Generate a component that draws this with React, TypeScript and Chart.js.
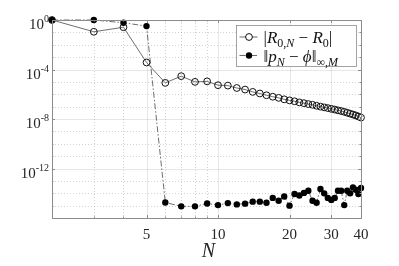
import React, { useEffect, useRef } from "react";
import { Chart, registerables } from "chart.js";

Chart.register(...registerables);

// ---- data ----
const N = [2, 3, 4, 5, 6, 7, 8, 9, 10, 11, 12, 13, 14, 15, 16, 17, 18, 19, 20, 21, 22, 23, 24, 25, 26, 27, 28, 29, 30, 31, 32, 33, 34, 35, 36, 37, 38, 39, 40];
const errR = [1, 1.12e-1, 2.6e-1, 3.7e-4, 8.3e-6, 2.9e-5, 1.0e-5, 1.1e-5, 5.4e-6, 5.0e-6, 3.2e-6, 2.4e-6, 1.55e-6, 1.15e-6, 8.3e-7, 6.3e-7, 5.1e-7, 3.9e-7, 3.2e-7, 2.7e-7, 2.2e-7, 1.9e-7, 1.6e-7, 1.4e-7, 1.17e-7, 1.0e-7, 8.7e-8, 7.6e-8, 6.6e-8, 5.8e-8, 5.0e-8, 4.4e-8, 3.8e-8, 3.2e-8, 2.7e-8, 2.3e-8, 1.95e-8, 1.6e-8, 1.3e-8];
const errP = [1, 1, 0.6, 0.32, 1.8e-15, 8.7e-16, 8.7e-16, 1.5e-15, 1.1e-15, 1.6e-15, 1.26e-15, 1.45e-15, 2.1e-15, 2.1e-15, 1.7e-15, 4.2e-15, 2.5e-15, 5.4e-15, 1.0e-15, 8.7e-15, 6.5e-15, 1.07e-14, 1.6e-14, 2.5e-15, 1.7e-15, 2.2e-14, 9.8e-15, 4.2e-15, 2.9e-15, 4.2e-15, 1.6e-14, 1.6e-14, 1.1e-15, 1.6e-14, 9.8e-15, 3.0e-14, 1.9e-14, 8.7e-15, 2.7e-14];
const xTicks = [5, 10, 20, 30, 40];
const xMinor = [2, 3, 4, 6, 7, 8, 9];
const yMajorExp = [0, -4, -8, -12, -16];
const yMinorExp = [-1, -2, -3, -5, -6, -7, -9, -10, -11, -13, -14, -15];
const yLabelExp = [0, -4, -8, -12];
const xLabel = "N";

const SERIF = '"Liberation Serif", "DejaVu Serif", serif';

type Seg = { t: string; it?: boolean; sub?: boolean; sup?: boolean };
const legendRows: { segs: Seg[]; filled: boolean; dash: number[] }[] = [
  {
    segs: [
      { t: "|" }, { t: "R", it: true }, { t: "0,", sub: true }, { t: "N", sub: true, it: true },
      { t: " − " }, { t: "R", it: true }, { t: "0", sub: true }, { t: "|" },
    ],
    filled: false,
    dash: [],
  },
  {
    segs: [
      { t: "‖" }, { t: "p", it: true }, { t: "N", sub: true, it: true }, { t: " − " },
      { t: "ϕ", it: true }, { t: "‖" }, { t: "∞,", sub: true }, { t: "M", sub: true, it: true },
    ],
    filled: true,
    dash: [6, 2, 1.5, 2],
  },
];

function drawRich(ctx: CanvasRenderingContext2D, segs: Seg[], x: number, base: number, big: number, small: number) {
  ctx.textAlign = "left";
  ctx.textBaseline = "alphabetic";
  for (const s of segs) {
    const size = s.sub || s.sup ? small : big;
    ctx.font = `${s.it ? "italic " : ""}${size}px ${SERIF}`;
    const dy = s.sub ? 4 : s.sup ? -6 : 0;
    ctx.fillText(s.t, x, base + dy);
    x += ctx.measureText(s.t).width;
  }
}

const decor = {
  id: "decor",
  beforeDatasetsDraw(chart: any) {
    const { ctx, chartArea: a, scales } = chart;
    const xs = scales.x, ys = scales.y;
    ctx.save();
    ctx.lineWidth = 0.8;
    // minor dotted grid
    ctx.strokeStyle = "rgba(0,0,0,0.22)";
    ctx.setLineDash([1, 2]);
    for (const v of xMinor) {
      const px = Math.round(xs.getPixelForValue(v)) + 0.5;
      ctx.beginPath(); ctx.moveTo(px, a.top); ctx.lineTo(px, a.bottom); ctx.stroke();
    }
    for (const e of yMinorExp) {
      const py = Math.round(ys.getPixelForValue(Math.pow(10, e))) + 0.5;
      ctx.beginPath(); ctx.moveTo(a.left, py); ctx.lineTo(a.right, py); ctx.stroke();
    }
    // major solid grid
    ctx.setLineDash([]);
    ctx.strokeStyle = "rgba(0,0,0,0.12)";
    for (const v of xTicks) {
      const px = Math.round(xs.getPixelForValue(v)) + 0.5;
      ctx.beginPath(); ctx.moveTo(px, a.top); ctx.lineTo(px, a.bottom); ctx.stroke();
    }
    for (const e of yMajorExp) {
      const py = Math.round(ys.getPixelForValue(Math.pow(10, e))) + 0.5;
      ctx.beginPath(); ctx.moveTo(a.left, py); ctx.lineTo(a.right, py); ctx.stroke();
    }
    ctx.restore();
  },
  afterDatasetsDraw(chart: any) {
    const { ctx, chartArea: a, scales } = chart;
    const xs = scales.x, ys = scales.y;
    ctx.save();
    // axes box
    ctx.strokeStyle = "#8c8c8c";
    ctx.lineWidth = 1;
    ctx.strokeRect(Math.round(a.left) + 0.5, Math.round(a.top) + 0.5, Math.round(a.right - a.left), Math.round(a.bottom - a.top));
    // tick marks (inward)
    const tl = 3;
    ctx.beginPath();
    for (const v of xTicks) {
      const px = Math.round(xs.getPixelForValue(v)) + 0.5;
      ctx.moveTo(px, a.bottom); ctx.lineTo(px, a.bottom - tl);
      ctx.moveTo(px, a.top); ctx.lineTo(px, a.top + tl);
    }
    for (const e of yMajorExp) {
      const py = Math.round(ys.getPixelForValue(Math.pow(10, e))) + 0.5;
      ctx.moveTo(a.left, py); ctx.lineTo(a.left + tl, py);
      ctx.moveTo(a.right, py); ctx.lineTo(a.right - tl, py);
    }
    ctx.stroke();
    ctx.beginPath();
    for (const e of yMinorExp) {
      const py = Math.round(ys.getPixelForValue(Math.pow(10, e))) + 0.5;
      ctx.moveTo(a.left, py); ctx.lineTo(a.left + 1.5, py);
      ctx.moveTo(a.right, py); ctx.lineTo(a.right - 1.5, py);
    }
    for (const v of xMinor) {
      const px = Math.round(xs.getPixelForValue(v)) + 0.5;
      ctx.moveTo(px, a.bottom); ctx.lineTo(px, a.bottom - 1.5);
      ctx.moveTo(px, a.top); ctx.lineTo(px, a.top + 1.5);
    }
    ctx.stroke();

    // x tick labels
    ctx.fillStyle = "#262626";
    ctx.font = `15px ${SERIF}`;
    ctx.textAlign = "center";
    ctx.textBaseline = "alphabetic";
    for (const v of xTicks) {
      ctx.fillText(String(v), xs.getPixelForValue(v), a.bottom + 21);
    }
    // x label
    ctx.font = `italic 20px ${SERIF}`;
    ctx.fillText(xLabel, (a.left + a.right) / 2 + 2, a.bottom + 39);

    // y tick labels 10^e
    for (const e of yLabelExp) {
      const py = ys.getPixelForValue(Math.pow(10, e));
      const right = a.left - 3;
      ctx.textAlign = "right";
      ctx.font = `10px ${SERIF}`;
      const sup = String(e);
      const sw = ctx.measureText(sup).width;
      ctx.fillText(sup, right, py + 2);
      ctx.font = `15px ${SERIF}`;
      ctx.fillText("10", right - sw, py + 9);
    }

    // legend
    const lw = 120, lh = 41;
    const lx = Math.round(a.right - 5 - lw) + 0.5;
    const ly = Math.round(a.top + 5) + 0.5;
    ctx.fillStyle = "#ffffff";
    ctx.fillRect(lx, ly, lw, lh);
    ctx.strokeStyle = "#8c8c8c";
    ctx.lineWidth = 0.8;
    ctx.strokeRect(lx, ly, lw, lh);
    legendRows.forEach((row, i) => {
      const cy = ly + 11.5 + i * 18.5;
      ctx.strokeStyle = "#444";
      ctx.lineWidth = 0.8;
      ctx.setLineDash(row.dash);
      ctx.beginPath(); ctx.moveTo(lx + 3, cy); ctx.lineTo(lx + 21, cy); ctx.stroke();
      ctx.setLineDash([]);
      ctx.beginPath();
      ctx.arc(lx + 12.5, cy, row.filled ? 3.2 : 3.4, 0, Math.PI * 2);
      if (row.filled) { ctx.fillStyle = "#000"; ctx.fill(); }
      else { ctx.fillStyle = "#fff"; ctx.fill(); ctx.strokeStyle = "#111"; ctx.lineWidth = 1; ctx.stroke(); }
      ctx.fillStyle = "#111";
      drawRich(ctx, row.segs, lx + 27, cy + 6, 17, 12);
    });
    ctx.restore();
  },
};

export default function App() {
  const ref = useRef<HTMLCanvasElement | null>(null);
  useEffect(() => {
    if (!ref.current) return;
    const chart = new Chart(ref.current, {
      type: "scatter",
      data: {
        datasets: [
          {
            label: "|R0,N - R0|",
            data: N.map((n, i) => ({ x: n, y: errR[i] })),
            showLine: true,
            borderColor: "#4a4a4a",
            borderWidth: 0.8,
            pointRadius: 3.4,
            pointBorderWidth: 1,
            pointBorderColor: "#111",
            pointBackgroundColor: "rgba(255,255,255,0)",
            clip: false as any,
          },
          {
            label: "||pN - phi||",
            data: N.map((n, i) => ({ x: n, y: errP[i] })),
            showLine: true,
            borderColor: "#4a4a4a",
            borderWidth: 0.8,
            borderDash: [6, 2, 1.5, 2],
            pointRadius: 3.2,
            pointBorderWidth: 0,
            pointBackgroundColor: "#000",
            clip: false as any,
          },
        ],
      },
      options: {
        animation: false,
        responsive: false,
        devicePixelRatio: 1,
        layout: { padding: { left: 52, right: 38, top: 20, bottom: 48 } },
        plugins: { legend: { display: false }, tooltip: { enabled: false } },
        scales: {
          x: { type: "logarithmic", min: 2, max: 40, display: false },
          y: { type: "logarithmic", min: 1e-16, max: 1, display: false },
        },
      },
      plugins: [decor],
    });
    return () => chart.destroy();
  }, []);
  return (
    <div style={{ position: "absolute", left: 0, top: 0, width: 399, height: 266, background: "#fff" }}>
      <canvas ref={ref} width={399} height={266} style={{ width: 399, height: 266, display: "block" }} />
    </div>
  );
}
